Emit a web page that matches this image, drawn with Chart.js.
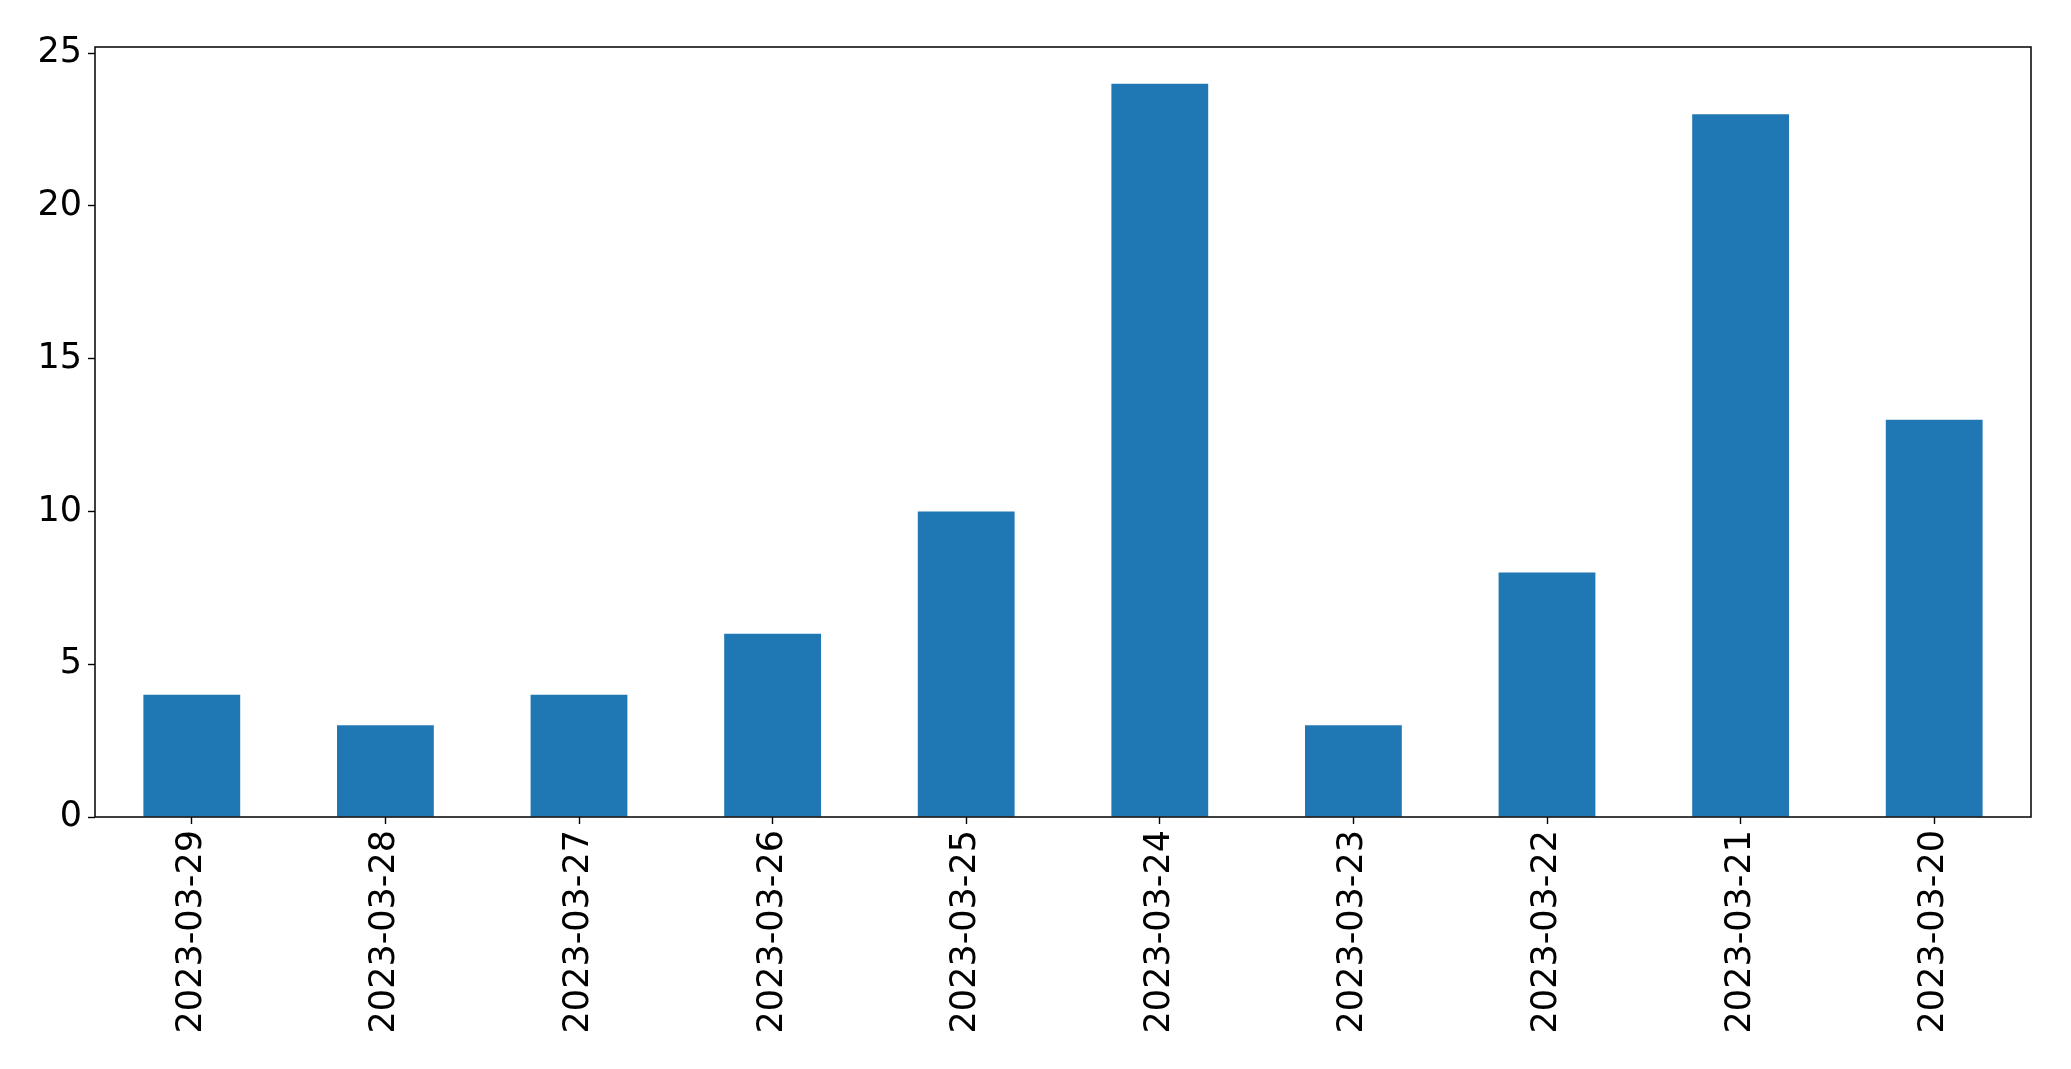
<!DOCTYPE html>
<html>
<head>
<meta charset="utf-8">
<script src="https://cdn.jsdelivr.net/npm/chart.js@4.4.0/dist/chart.umd.min.js"></script>
<style>
html,body{margin:0;padding:0;background:#fff}
#wrap{width:2071px;height:1069px}
</style>
</head>
<body>
<div id="wrap"><canvas id="chart" width="2071" height="1069"></canvas></div>
<script>

const dates = ["2023-03-29","2023-03-28","2023-03-27","2023-03-26","2023-03-25","2023-03-24","2023-03-23","2023-03-22","2023-03-21","2023-03-20"]
const counts = [4,3,4,6,10,24,3,8,23,13]
const yTicks = [0,5,10,15,20,25]

const frame = {
id:"frame",
afterDraw(chart){
const a = chart.chartArea
const ctx = chart.ctx
ctx.save()
ctx.strokeStyle = "#000"
ctx.lineWidth = 1.5
ctx.strokeRect(a.left, a.top, a.right - a.left, a.bottom - a.top)
ctx.restore()
}
}

new Chart(
document.getElementById("chart"),
{
type:"bar",
data:{
labels:dates,
datasets:[{
data:counts,
backgroundColor:"#1f77b4",
barPercentage:0.5,
categoryPercentage:1
}]
},
options:{
responsive:false,
animation:false,
layout:{padding:{top:47,right:40,left:0,bottom:0}},
plugins:{legend:{display:false},tooltip:{enabled:false}},
scales:{
x:{
grid:{display:true,offset:false,drawOnChartArea:false,tickLength:7,tickColor:"#000",tickWidth:1.4},
border:{display:false},
ticks:{color:"#000",font:{family:"DejaVu Sans",size:35},minRotation:90,maxRotation:90,padding:6},
afterFit(s){ s.height = 252 }
},
y:{
min:0,
max:25.2,
grid:{display:true,drawOnChartArea:false,tickLength:7,tickColor:"#000",tickWidth:1.4},
border:{display:false},
ticks:{color:"#000",font:{family:"DejaVu Sans",size:35},stepSize:5,includeBounds:false,padding:6},
afterBuildTicks(s){ s.ticks = yTicks.map(v => ({value:v})) },
afterFit(s){ s.width = 95 }
}
}
},
plugins:[frame]
}
)

</script>
</body>
</html>
